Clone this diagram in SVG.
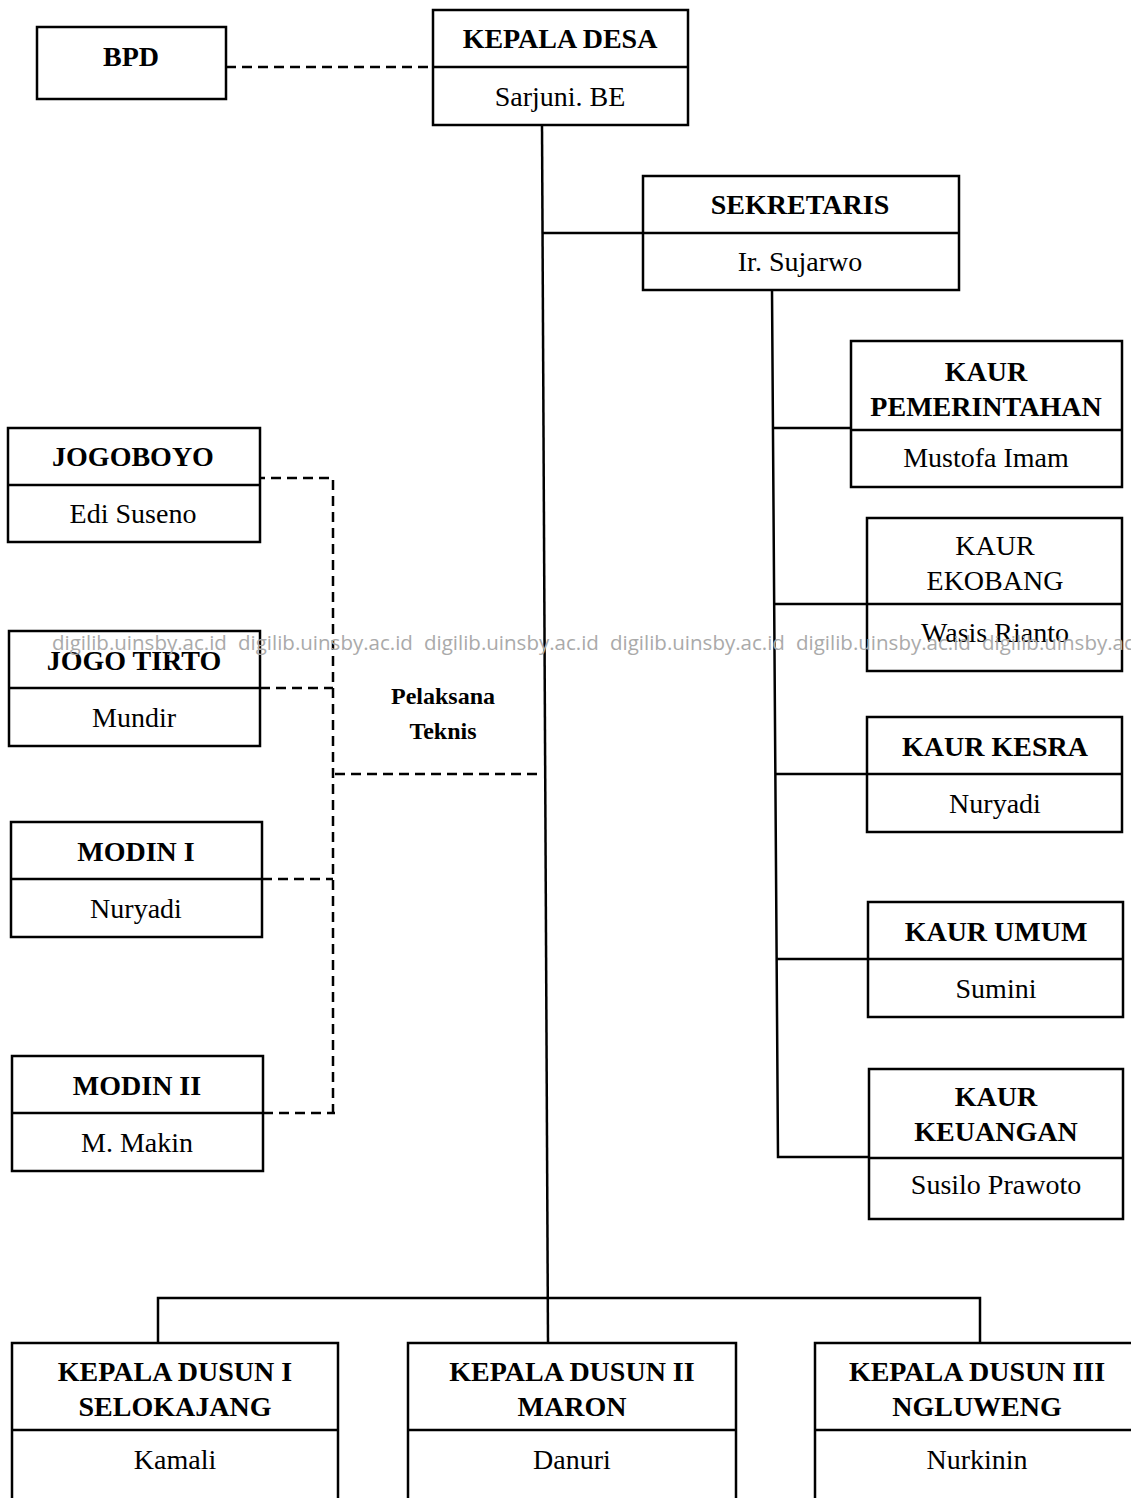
<svg xmlns="http://www.w3.org/2000/svg" width="1131" height="1498" viewBox="0 0 1131 1498">
<style>
.box{fill:#fff;stroke:#000;stroke-width:2.5}
.div{stroke:#000;stroke-width:2.5}
.ln{fill:none;stroke:#000;stroke-width:2.5}
.dash{fill:none;stroke:#000;stroke-width:2.5;stroke-dasharray:10 6}
.b{font-family:"Liberation Serif",serif;font-weight:bold;font-size:28px;text-anchor:middle;fill:#000}
.r{font-family:"Liberation Serif",serif;font-size:28px;text-anchor:middle;fill:#000}
.pt{font-family:"Liberation Serif",serif;font-weight:bold;font-size:24px;text-anchor:middle;fill:#000}
.wm{font-family:"Open Sans","DejaVu Sans",sans-serif;font-size:20.5px;fill:#aaa}
</style>
<rect width="1131" height="1498" fill="#fff"/>
<g id="connectors">
<path class="dash" d="M226 67H433"/>
<path class="ln" d="M542 125L548 1343"/>
<path class="ln" d="M542 233H643"/>
<path class="ln" d="M772 290L778 1157H869"/>
<path class="ln" d="M773 428H851"/>
<path class="ln" d="M775 604H867"/>
<path class="ln" d="M776 774H867"/>
<path class="ln" d="M777 959H868"/>
<path class="ln" d="M158 1343V1298H980V1343"/>
<path class="dash" d="M255 478H333V1115"/>
<path class="dash" d="M260 688H333"/>
<path class="dash" d="M262 879H333"/>
<path class="dash" d="M263 1113H335"/>
<path class="dash" d="M335 774H542"/>
</g>
<g id="kepala-desa"><rect class="box" x="433" y="10" width="255" height="115"/><line class="div" x1="433" y1="67" x2="688" y2="67"/><text class="b" x="560" y="48">KEPALA DESA</text><text class="r" x="560" y="106">Sarjuni. BE</text></g>
<g id="bpd"><rect class="box" x="37" y="27" width="189" height="72"/><text class="b" x="131" y="66">BPD</text></g>
<g id="sekretaris"><rect class="box" x="643" y="176" width="316" height="114"/><line class="div" x1="643" y1="233" x2="959" y2="233"/><text class="b" x="800" y="214">SEKRETARIS</text><text class="r" x="800" y="271">Ir. Sujarwo</text></g>
<g id="kaur-pemerintahan"><rect class="box" x="851" y="341" width="271" height="146"/><line class="div" x1="851" y1="430" x2="1122" y2="430"/><text class="b" x="986" y="381">KAUR</text><text class="b" x="986" y="416">PEMERINTAHAN</text><text class="r" x="986" y="467">Mustofa Imam</text></g>
<g id="kaur-ekobang"><rect class="box" x="867" y="518" width="255" height="153"/><line class="div" x1="867" y1="604" x2="1122" y2="604"/><text class="r" x="995" y="555">KAUR</text><text class="r" x="995" y="590">EKOBANG</text><text class="r" x="995" y="642">Wasis Rianto</text></g>
<g id="kaur-kesra"><rect class="box" x="867" y="717" width="255" height="115"/><line class="div" x1="867" y1="774" x2="1122" y2="774"/><text class="b" x="995" y="756">KAUR KESRA</text><text class="r" x="995" y="813">Nuryadi</text></g>
<g id="kaur-umum"><rect class="box" x="868" y="902" width="255" height="115"/><line class="div" x1="868" y1="959" x2="1123" y2="959"/><text class="b" x="996" y="941">KAUR UMUM</text><text class="r" x="996" y="998">Sumini</text></g>
<g id="kaur-keuangan"><rect class="box" x="869" y="1069" width="254" height="150"/><line class="div" x1="869" y1="1158" x2="1123" y2="1158"/><text class="b" x="996" y="1106">KAUR</text><text class="b" x="996" y="1141">KEUANGAN</text><text class="r" x="996" y="1194">Susilo Prawoto</text></g>
<g id="jogoboyo"><rect class="box" x="8" y="428" width="252" height="114"/><line class="div" x1="8" y1="485" x2="260" y2="485"/><text class="b" x="133" y="466">JOGOBOYO</text><text class="r" x="133" y="523">Edi Suseno</text></g>
<g id="jogo-tirto"><rect class="box" x="9" y="631" width="251" height="115"/><line class="div" x1="9" y1="688" x2="260" y2="688"/><text class="b" x="134" y="670">JOGO TIRTO</text><text class="r" x="134" y="727">Mundir</text></g>
<g id="modin-1"><rect class="box" x="11" y="822" width="251" height="115"/><line class="div" x1="11" y1="879" x2="262" y2="879"/><text class="b" x="136" y="861">MODIN I</text><text class="r" x="136" y="918">Nuryadi</text></g>
<g id="modin-2"><rect class="box" x="12" y="1056" width="251" height="115"/><line class="div" x1="12" y1="1113" x2="263" y2="1113"/><text class="b" x="137" y="1095">MODIN II</text><text class="r" x="137" y="1152">M. Makin</text></g>
<g id="pelaksana-teknis"><text class="pt" x="443" y="704">Pelaksana</text><text class="pt" x="443" y="739">Teknis</text></g>
<g id="dusun-1"><rect class="box" x="12" y="1343" width="326" height="170"/><line class="div" x1="12" y1="1430" x2="338" y2="1430"/><text class="b" x="175" y="1381">KEPALA DUSUN I</text><text class="b" x="175" y="1416">SELOKAJANG</text><text class="r" x="175" y="1469">Kamali</text></g>
<g id="dusun-2"><rect class="box" x="408" y="1343" width="328" height="170"/><line class="div" x1="408" y1="1430" x2="736" y2="1430"/><text class="b" x="572" y="1381">KEPALA DUSUN II</text><text class="b" x="572" y="1416">MARON</text><text class="r" x="572" y="1469">Danuri</text></g>
<g id="dusun-3"><rect class="box" x="815" y="1343" width="330" height="170"/><line class="div" x1="815" y1="1430" x2="1145" y2="1430"/><text class="b" x="977" y="1381">KEPALA DUSUN III</text><text class="b" x="977" y="1416">NGLUWENG</text><text class="r" x="977" y="1469">Nurkinin</text></g>
<g id="watermark" class="wm">
<text x="52" y="650">digilib.uinsby.ac.id</text>
<text x="238" y="650">digilib.uinsby.ac.id</text>
<text x="424" y="650">digilib.uinsby.ac.id</text>
<text x="610" y="650">digilib.uinsby.ac.id</text>
<text x="796" y="650">digilib.uinsby.ac.id</text>
<text x="982" y="650">digilib.uinsby.ac.id</text>
</g>
</svg>
